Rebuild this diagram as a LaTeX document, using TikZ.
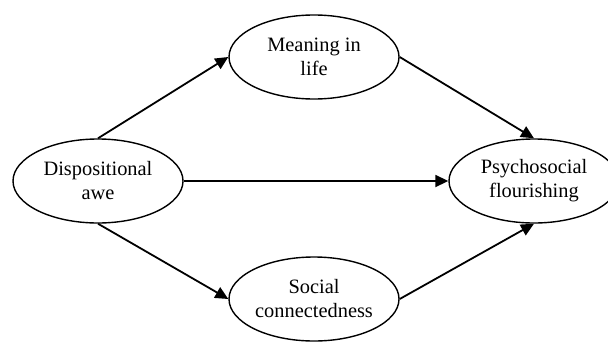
\documentclass[tikz,border=0pt]{standalone}
\usepackage{fontspec}
\setmainfont{Liberation Serif}
\usetikzlibrary{arrows.meta,positioning,shapes}

\tikzset{
  latent/.style={ellipse,draw,line width=0.7pt,minimum width=85pt,minimum height=42pt,
    inner sep=0pt,align=center,font=\fontsize{10.2}{12}\selectfont},
  effect/.style={->,line width=0.9pt}
}

\begin{document}
\begin{tikzpicture}[on grid, >={Triangle[length=6.5pt,width=6pt]}]
  \useasboundingbox (0,0) rectangle (304pt,-171pt);
  \node[latent] (awe) at (49pt,-90.5pt) {Dispositional\\awe};
  \node[latent,above right=62pt and 108pt of awe] (meaning) {Meaning in\\life};
  \node[latent,below right=59pt and 108pt of awe] (social) {Social\\connectedness};
  \node[latent,right=218pt of awe] (flourish) {Psychosocial\\flourishing};
  \draw[effect] (awe.north) -- (meaning.west);
  \draw[effect] (meaning.east) -- (flourish.north);
  \draw[effect] (awe.east) -- (flourish.west);
  \draw[effect] (awe.south) -- (social.west);
  \draw[effect] (social.east) -- (flourish.south);
\end{tikzpicture}
\end{document}
